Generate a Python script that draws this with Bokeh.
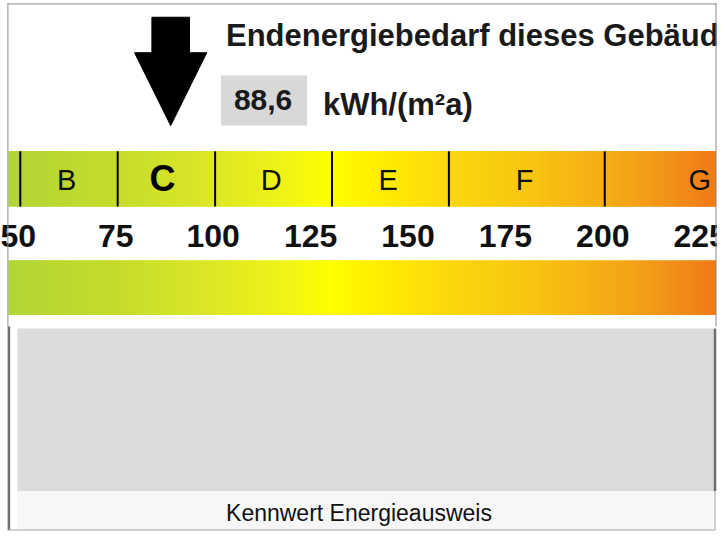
import numpy as np
from bokeh.plotting import figure
from bokeh.models import Range1d, ColumnDataSource
from bokeh.core.properties import value
from bokeh.embed import file_html
from bokeh.resources import INLINE

# ---------------- data ----------------
class_labels = ["B", "C", "D", "E", "F", "G"]
class_lower = [50, 75, 100, 130, 160, 200]
class_upper = [75, 100, 130, 160, 200, 250]
tick_values = [50, 75, 100, 125, 150, 175, 200, 225]
tick_labels = ["50", "75", "100", "125", "150", "175", "200", "225"]
kennwert = 88.6
kennwert_label = "88,6"
unit_label = "kWh/(m²a)"
title_text = "Endenergiebedarf dieses Gebäudes"
caption_text = "Kennwert Energieausweis"

# colour stops of the scale gradient (kWh/(m²a), colour)
grad_stop_val = [44, 75, 100, 120, 130, 140, 160, 180, 200, 215, 232]
grad_stop_col = ["#b0d437", "#c6dc2c", "#dde827", "#f2f515", "#ffff00", "#fff000",
                 "#fbd80d", "#f8c612", "#f5ad16", "#f29519", "#ef7316"]

# ---------------- layout ----------------
W, H = 717, 533            # figure size (fits the 725x541 window with 8px margin)
REF_W, REF_H = 725, 541    # layout is designed in a 725x541 space, scaled to W x H
S = 3.94                   # design px per kWh/(m²a)


def vx(px):
    """design x pixel -> scale value"""
    return 50 + (px - 20) / S


FONT = value("Liberation Sans")

p = figure(width=W, height=H, output_backend="svg", toolbar_location=None,
           x_range=Range1d(vx(0), vx(REF_W)), y_range=Range1d(REF_H, 0),
           x_axis_location=None, y_axis_location=None, min_border=0,
           outline_line_color=None, background_fill_color="white",
           border_fill_color="white")
p.grid.visible = False

# gradient bands (overlapping slices so no white seams show through)
def hex2rgb(h):
    return np.array([int(h[i:i + 2], 16) for i in (1, 3, 5)], dtype=float)

rgb = np.array([hex2rgb(c) for c in grad_stop_col])
band_l, band_r = vx(8), vx(723.5)
edges = np.arange(band_l, band_r, 1.0 / S)
mids = edges + 0.5 / S
cols = []
for m in mids:
    r = np.interp(m, grad_stop_val, rgb[:, 0])
    g = np.interp(m, grad_stop_val, rgb[:, 1])
    b = np.interp(m, grad_stop_val, rgb[:, 2])
    cols.append("#%02x%02x%02x" % (int(round(r)), int(round(g)), int(round(b))))
left = edges
right = np.minimum(edges + 3.0 / S, band_r)
for top, bottom in ((153, 209), (264, 319)):
    src = ColumnDataSource(dict(left=left, right=right, c=cols))
    p.quad(left="left", right="right", top=top, bottom=bottom, source=src,
           fill_color="c", line_color=None)

# class separators
p.segment(x0=class_lower, x1=class_lower, y0=[153] * len(class_lower),
          y1=[209] * len(class_lower), line_color="black", line_width=2)

# class labels
cur = [i for i in range(len(class_labels)) if class_lower[i] <= kennwert < class_upper[i]][0]
mid = [(a + b) / 2 for a, b in zip(class_lower, class_upper)]
norm_idx = [i for i in range(len(class_labels)) if i != cur]
p.text(x=[mid[i] - 0.6 for i in norm_idx], y=[182] * len(norm_idx),
       text=[class_labels[i] for i in norm_idx], text_align="center",
       text_baseline="middle", text_font=FONT, text_font_size="29px",
       text_color="#111111")
p.text(x=[mid[cur] - 1.0], y=[181], text=[class_labels[cur]], text_align="center",
       text_baseline="middle", text_font=FONT, text_font_size="36px",
       text_font_style="bold", text_color="#000000")

# scale numbers
p.text(x=[t - 0.5 for t in tick_values], y=[239] * len(tick_values), text=tick_labels,
       text_align="center", text_baseline="middle", text_font=FONT,
       text_font_size="32px", text_font_style="bold", text_color="#111111")

# arrow
hs, hh = 19 / S, 36.5 / S
p.patch(x=[kennwert - hs, kennwert + hs, kennwert + hs, kennwert + hh, kennwert,
           kennwert - hh, kennwert - hs],
        y=[17, 17, 53, 53, 127, 53, 53], fill_color="black", line_color="black")

# title, value box, unit
p.text(x=[vx(228)], y=[36], text=[title_text], text_align="left",
       text_baseline="middle", text_font=FONT, text_font_size="31px",
       text_font_style="bold", text_color="#1a1a1a")
p.quad(left=vx(223), right=vx(310), top=76, bottom=127, fill_color="#d8d8d8",
       line_color=None)
p.text(x=[vx(265.5)], y=[101.5], text=[kennwert_label], text_align="center",
       text_baseline="middle", text_font=FONT, text_font_size="30px",
       text_font_style="bold", text_color="#1a1a1a")
p.text(x=[vx(326)], y=[106], text=[unit_label], text_align="left",
       text_baseline="middle", text_font=FONT, text_font_size="31px",
       text_font_style="bold", text_color="#1a1a1a")

# frame of upper section
p.segment(x0=[vx(7), vx(7.5), vx(723.5)], x1=[vx(724), vx(7.5), vx(723.5)],
          y0=[3.5, 3, 3], y1=[3.5, 331, 331], line_color="#8c8c8c", line_width=1)

# lower section
p.quad(left=vx(17), right=vx(722), top=333, bottom=498, fill_color="#dcdcdc",
       line_color=None)
p.quad(left=vx(17), right=vx(722), top=498, bottom=537, fill_color="#f7f7f7",
       line_color=None)
p.segment(x0=[vx(8.5), vx(722.5)], x1=[vx(8.5), vx(722.5)], y0=[331, 333],
          y1=[538, 498], line_color="#6e6e6e", line_width=2.5)
p.segment(x0=[vx(722.5), vx(8)], x1=[vx(722.5), vx(723)], y0=[498, 537.5],
          y1=[537, 537.5], line_color="#c2c2c2", line_width=1.5)
p.text(x=[vx(362.5)], y=[520], text=[caption_text], text_align="center",
       text_baseline="middle", text_font=FONT, text_font_size="23px",
       text_color="#111111")

open("out.html", "w").write(file_html(p, INLINE))
